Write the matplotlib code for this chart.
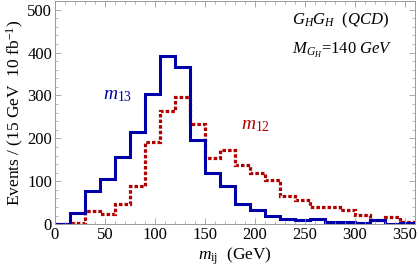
import numpy as np
import matplotlib
matplotlib.use("Agg")
from matplotlib import pyplot as plt
from matplotlib.ticker import MultipleLocator

plt.rcParams["font.family"] = "Liberation Serif"
plt.rcParams["mathtext.fontset"] = "custom"
plt.rcParams["mathtext.rm"] = "Liberation Serif"
plt.rcParams["mathtext.it"] = "Liberation Serif:italic"

# 15 GeV bins from 0 to 360 GeV
bin_edges = np.arange(0, 361, 15)

m13 = [0, 26, 77, 105, 157, 214, 304, 391, 366, 195, 119, 89,
       48, 33, 19, 13, 9, 12, 5, 5, 2, 9, 0, 3]
m12 = [0, 3, 30, 23, 47, 88, 192, 263, 296, 233, 155, 172,
       139, 120, 102, 66, 57, 39, 41, 34, 21, 10, 16, 6]

blue = "#0000a8"
red = "#b00000"
frame = "#9a9a9a"

fig = plt.figure(figsize=(4.19, 2.72), dpi=100)
ax = fig.add_axes([0.131, 0.176, 0.859, 0.82])

ax.stairs(m12, bin_edges, color=red, lw=2.3, linestyle=(0, (1.1, 0.65)))
ax.stairs(m13, bin_edges, color=blue, lw=2.2)

ax.set_xlim(0, 360)
ax.set_ylim(0, 520)

ax.xaxis.set_major_locator(MultipleLocator(50))
ax.xaxis.set_minor_locator(MultipleLocator(10))
ax.yaxis.set_major_locator(MultipleLocator(100))
ax.yaxis.set_minor_locator(MultipleLocator(20))
ax.tick_params(which="both", direction="in", top=True, right=True,
               color=frame, labelsize=12, pad=2)
ax.tick_params(which="major", length=4, width=0.6)
ax.tick_params(which="minor", length=2, width=0.5)
for s in ax.spines.values():
    s.set_color(frame)
    s.set_linewidth(0.7)

ax.set_xlabel(r"$m_{\rm ij}$  (GeV)", fontsize=12.5, labelpad=2)
ax.set_ylabel(r"Events / (15 GeV  10 fb$^{-1}$)", fontsize=12.5, labelpad=1)

ax.text(0.658, 0.915, r"$G_H G_H$  $(QCD)$", transform=ax.transAxes,
        fontsize=12, va="center", ha="left")
ax.text(0.658, 0.78, r"$M_{G_H}$=$\it{140\ GeV}$", transform=ax.transAxes,
        fontsize=12, va="center", ha="left")
ax.text(63, 300, r"$m_{13}$", color=blue, fontsize=14, va="center", ha="center")
ax.text(201, 230, r"$m_{12}$", color=red, fontsize=14, va="center", ha="center")

plt.savefig("out.png", dpi=100)
